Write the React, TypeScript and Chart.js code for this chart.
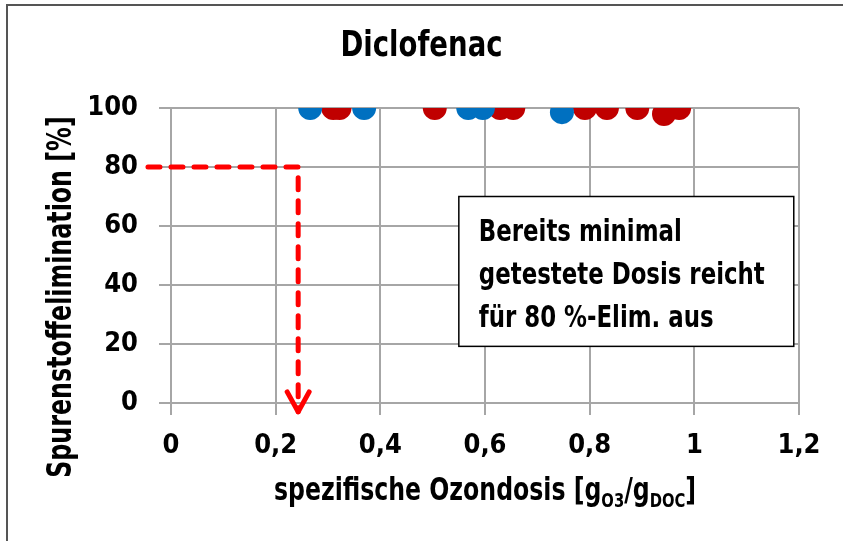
import { useEffect, useRef } from "react";
import { Chart, registerables } from "chart.js";

Chart.register(...registerables);

// ---- data ----
const chartTitle = "Diclofenac";
const blueDose = [0.266, 0.369, 0.568, 0.596, 0.747];
const blueElim = [100, 100, 100, 100, 98.6];
const redDose = [0.31, 0.322, 0.504, 0.629, 0.654, 0.791, 0.833, 0.891, 0.942, 0.971];
const redElim = [100, 100, 100, 100, 100, 100, 100, 100, 98, 100];
const xTickLabels = ["0", "0,2", "0,4", "0,6", "0,8", "1", "1,2"];
const yTickLabels = ["0", "20", "40", "60", "80", "100"];
const yAxisTitle = "Spurenstoffelimination [%]";
const xAxisTitleParts = [
  { text: "spezifische Ozondosis [g", sub: false },
  { text: "O3", sub: true },
  { text: "/g", sub: false },
  { text: "DOC", sub: true },
  { text: "]", sub: false },
];
const noteLines = ["Bereits minimal", "getestete Dosis reicht", "für 80 %-Elim. aus"];
const thresholdElim = 80;
const minTestedDose = 0.243;
const guideStartDose = -0.044;
const guideEndElim = -3;
const noteBoxDose = [0.55, 1.19];
const noteBoxElim = [70, 19.2];

const FONT = '"DejaVu Sans Condensed", "Liberation Sans Narrow", sans-serif';
const GRID = "#A6A6A6";
const NARROW = 0.82;

function drawNarrow(ctx: CanvasRenderingContext2D, text: string, x: number, y: number, sx = NARROW) {
  ctx.save();
  ctx.translate(x, y);
  ctx.scale(sx, 1);
  ctx.fillText(text, 0, 0);
  ctx.restore();
}

const overlayPlugin = {
  id: "overlay",
  afterDraw(chart: any) {
    const ctx = chart.ctx as CanvasRenderingContext2D;
    const xs = chart.scales.x;
    const ys = chart.scales.y;
    const area = chart.chartArea;

    // chart title
    ctx.save();
    ctx.fillStyle = "#000000";
    ctx.font = `bold 36px ${FONT}`;
    ctx.textAlign = "center";
    ctx.textBaseline = "middle";
    drawNarrow(ctx, chartTitle, chart.width / 2, 47, 0.85);
    ctx.restore();

    // dashed guide line
    ctx.save();
    ctx.strokeStyle = "#FF0000";
    ctx.lineWidth = 5;
    ctx.lineCap = "round";
    ctx.lineJoin = "round";
    ctx.setLineDash([12, 11]);
    const gx = xs.getPixelForValue(minTestedDose);
    const gy = ys.getPixelForValue(thresholdElim);
    const tipY = ys.getPixelForValue(guideEndElim);
    ctx.beginPath();
    ctx.moveTo(xs.getPixelForValue(guideStartDose), gy);
    ctx.lineTo(gx, gy);
    ctx.lineTo(gx, tipY);
    ctx.stroke();
    ctx.setLineDash([]);
    ctx.beginPath();
    ctx.moveTo(gx - 11, tipY - 20);
    ctx.lineTo(gx, tipY);
    ctx.lineTo(gx + 11, tipY - 20);
    ctx.stroke();
    ctx.restore();

    // note box
    ctx.save();
    const bx0 = xs.getPixelForValue(noteBoxDose[0]);
    const bx1 = xs.getPixelForValue(noteBoxDose[1]);
    const by0 = ys.getPixelForValue(noteBoxElim[0]);
    const by1 = ys.getPixelForValue(noteBoxElim[1]);
    ctx.fillStyle = "#FFFFFF";
    ctx.fillRect(bx0, by0, bx1 - bx0, by1 - by0);
    ctx.strokeStyle = "#000000";
    ctx.lineWidth = 1.5;
    ctx.strokeRect(bx0, by0, bx1 - bx0, by1 - by0);
    ctx.fillStyle = "#000000";
    ctx.font = `bold 31px ${FONT}`;
    ctx.textAlign = "left";
    ctx.textBaseline = "alphabetic";
    noteLines.forEach((line, i) => {
      drawNarrow(ctx, line, bx0 + 20, by0 + 44 + i * 43);
    });
    ctx.restore();

    // y axis title
    ctx.save();
    ctx.fillStyle = "#000000";
    ctx.font = `bold 33px ${FONT}`;
    ctx.translate(62, 297);
    ctx.rotate(-Math.PI / 2);
    ctx.scale(0.8, 1);
    ctx.textAlign = "center";
    ctx.textBaseline = "middle";
    ctx.fillText(yAxisTitle, 0, 0);
    ctx.restore();

    // x axis title with subscripts
    ctx.save();
    ctx.fillStyle = "#000000";
    ctx.textAlign = "left";
    ctx.textBaseline = "alphabetic";
    const mainFont = `bold 32px ${FONT}`;
    const subFont = `bold 20px ${FONT}`;
    let total = 0;
    const widths = xAxisTitleParts.map((p) => {
      ctx.font = p.sub ? subFont : mainFont;
      const w = ctx.measureText(p.text).width * NARROW;
      total += w;
      return w;
    });
    let cx = (area.left + area.right) / 2 - total / 2;
    const baseY = 500;
    xAxisTitleParts.forEach((p, i) => {
      ctx.font = p.sub ? subFont : mainFont;
      drawNarrow(ctx, p.text, cx, p.sub ? baseY + 7 : baseY);
      cx += widths[i];
    });
    ctx.restore();
  },
};

export default function App() {
  const canvasRef = useRef<HTMLCanvasElement | null>(null);

  useEffect(() => {
    if (!canvasRef.current) return;
    const chart = new Chart(canvasRef.current, {
      type: "scatter",
      data: {
        datasets: [
          {
            label: "blau",
            data: blueDose.map((x, i) => ({ x, y: blueElim[i] })),
            backgroundColor: "#0070C0",
            borderWidth: 0,
            pointRadius: 12,
            pointHoverRadius: 12,
            order: 0,
          },
          {
            label: "rot",
            data: redDose.map((x, i) => ({ x, y: redElim[i] })),
            backgroundColor: "#C00000",
            borderWidth: 0,
            pointRadius: 12,
            pointHoverRadius: 12,
            order: 1,
          },
        ],
      },
      options: {
        animation: false,
        responsive: false,
        events: [],
        layout: { padding: { left: 0, right: 44, top: 108, bottom: 0 } },
        plugins: {
          legend: { display: false },
          tooltip: { enabled: false },
          title: { display: false },
        },
        scales: {
          x: {
            type: "linear",
            min: 0,
            max: 1.2,
            afterFit: (s: any) => {
              s.height = 138;
            },
            ticks: {
              stepSize: 0.2,
              autoSkip: false,
              maxRotation: 0,
              padding: 15,
              color: "#000000",
              font: { family: FONT, size: 27, weight: "bold" },
              callback: (_v: any, i: number) => xTickLabels[i],
            },
            grid: { color: GRID, lineWidth: 2, tickLength: 12, drawTicks: true },
            border: { color: GRID, width: 2 },
          },
          y: {
            type: "linear",
            min: 0,
            max: 100,
            afterFit: (s: any) => {
              s.width = 171;
            },
            ticks: {
              stepSize: 20,
              autoSkip: false,
              padding: 21,
              color: "#000000",
              font: { family: FONT, size: 27, weight: "bold" },
              callback: (_v: any, i: number) => yTickLabels[i],
            },
            grid: { color: GRID, lineWidth: 2, tickLength: 12, drawTicks: true },
            border: { color: GRID, width: 2 },
          },
        },
      },
      plugins: [overlayPlugin],
    } as any);
    return () => chart.destroy();
  }, []);

  return (
    <div style={{ position: "fixed", left: 0, top: 0, width: 843, height: 541, background: "#FFFFFF" }}>
      <canvas ref={canvasRef} width={843} height={541} style={{ display: "block" }} />
      <div
        style={{
          position: "absolute",
          left: 6,
          top: 4,
          width: 837,
          height: 537,
          borderLeft: "2px solid #555555",
          borderTop: "2px solid #555555",
          pointerEvents: "none",
          boxSizing: "border-box",
        }}
      />
    </div>
  );
}
